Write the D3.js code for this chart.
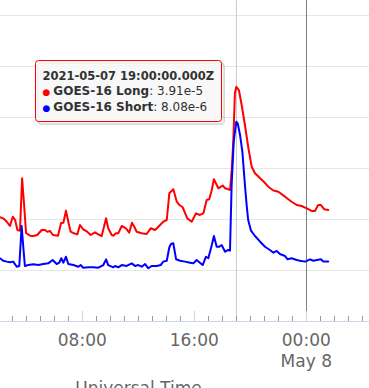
<!DOCTYPE html>
<html>
<head>
<meta charset="utf-8">
<script src="https://cdn.jsdelivr.net/npm/d3@7/dist/d3.min.js"></script>
<style>
html,body{margin:0;padding:0;background:#fff;overflow:hidden;}
svg{display:block;}
</style>
</head>
<body>
<svg id="chart" width="369" height="388"></svg>
<script>
// ---- data (UTC, 2021-05-DD HH:MM) ----
const longTimes = ["07 02:07","07 02:21","07 02:36","07 02:50","07 03:02","07 03:12","07 03:22","07 03:33","07 03:42","07 03:50","07 03:59","07 04:16","07 04:30","07 04:47","07 05:06","07 05:20","07 05:30","07 05:42","07 05:54","07 06:16","07 06:29","07 06:39","07 06:50","07 07:00","07 07:10","07 07:24","07 07:39","07 07:50","07 08:04","07 08:21","07 08:36","07 08:54","07 09:09","07 09:23","07 09:42","07 09:51","07 10:06","07 10:13","07 10:24","07 10:34","07 10:49","07 11:07","07 11:21","07 11:33","07 11:43","07 11:53","07 12:15","07 12:36","07 12:53","07 13:12","07 13:26","07 13:47","07 14:02","07 14:13","07 14:30","07 14:45","07 14:56","07 15:10","07 15:30","07 15:49","07 16:07","07 16:24","07 16:39","07 16:53","07 17:04","07 17:15","07 17:24","07 17:43","07 18:02","07 18:12","07 18:26","07 18:33","07 18:40","07 18:47","07 18:54","07 19:00","07 19:11","07 19:23","07 19:37","07 19:52","07 20:06","07 20:20","07 20:42","07 20:59","07 21:17","07 21:39","07 22:00","07 22:29","07 22:57","07 23:19","07 23:40","08 00:02","08 00:23","08 00:37","08 00:51","08 01:03","08 01:17","08 01:34"];
const longValues = [1.08e-7,1.03e-7,8.85e-8,7.29e-8,1.11e-7,9.56e-8,6.08e-8,5.90e-8,6.28e-7,2.06e-7,5.31e-8,4.71e-8,4.64e-8,4.86e-8,6.08e-8,6.08e-8,5.63e-8,5.82e-8,4.86e-8,4.71e-8,8.35e-8,8.46e-8,1.46e-7,8.85e-8,5.63e-8,5.24e-8,5.0e-8,7.63e-8,6.28e-8,5.63e-8,4.86e-8,5.48e-8,5.0e-8,4.64e-8,1.03e-7,6.57e-8,4.86e-8,4.71e-8,5.24e-8,5.24e-8,7.29e-8,6.57e-8,5.41e-8,8.46e-8,7.06e-8,5.63e-8,5.24e-8,5.08e-8,6.57e-8,6.08e-8,7.06e-8,8.85e-8,9.56e-8,3.19e-7,3.82e-7,2.18e-7,1.88e-7,1.70e-7,1.03e-7,8.85e-8,1.29e-7,1.20e-7,1.29e-7,2.36e-7,2.43e-7,3.70e-7,6.00e-7,4.00e-7,4.54e-7,4.00e-7,3.82e-7,3.70e-7,8.46e-7,3.28e-6,2.92e-5,3.91e-5,3.38e-5,1.72e-5,6.97e-6,2.43e-6,1.06e-6,7.87e-7,6.28e-7,5.31e-7,4.30e-7,3.62e-7,3.43e-7,2.74e-7,2.18e-7,1.88e-7,1.80e-7,1.62e-7,1.44e-7,1.44e-7,1.88e-7,1.88e-7,1.55e-7,1.50e-7];
const shortTimes = ["07 02:07","07 02:21","07 02:36","07 02:50","07 03:04","07 03:19","07 03:30","07 03:40","07 03:47","07 03:54","07 04:09","07 04:30","07 04:51","07 05:13","07 05:34","07 05:53","07 06:10","07 06:21","07 06:30","07 06:39","07 06:50","07 07:00","07 07:22","07 07:43","07 07:53","07 08:04","07 08:26","07 08:47","07 09:09","07 09:30","07 09:42","07 09:51","07 10:13","07 10:20","07 10:34","07 10:49","07 11:10","07 11:32","07 11:46","07 12:00","07 12:15","07 12:29","07 12:43","07 12:57","07 13:19","07 13:36","07 13:47","07 14:02","07 14:13","07 14:20","07 14:30","07 14:42","07 14:59","07 15:20","07 15:42","07 15:56","07 16:10","07 16:24","07 16:36","07 16:50","07 17:00","07 17:15","07 17:24","07 17:36","07 17:47","07 17:57","07 18:12","07 18:26","07 18:33","07 18:40","07 18:49","07 19:00","07 19:06","07 19:16","07 19:26","07 19:37","07 19:45","07 19:51","07 20:03","07 20:20","07 20:42","07 21:03","07 21:24","07 21:39","07 21:53","07 22:07","07 22:29","07 22:40","07 22:57","07 23:19","07 23:33","07 23:55","08 00:16","08 00:30","08 00:45","08 01:03","08 01:13","08 01:34"];
const shortValues = [1.70e-8,1.52e-8,1.46e-8,1.42e-8,1.46e-8,1.16e-8,1.20e-8,7.29e-8,2.86e-8,1.20e-8,1.25e-8,1.29e-8,1.25e-8,1.31e-8,1.35e-8,1.57e-8,1.31e-8,1.39e-8,1.70e-8,1.39e-8,1.82e-8,1.31e-8,1.25e-8,1.16e-8,1.25e-8,1.11e-8,1.13e-8,1.13e-8,1.11e-8,1.25e-8,1.62e-8,1.25e-8,1.13e-8,1.20e-8,1.13e-8,1.25e-8,1.20e-8,1.35e-8,1.20e-8,1.25e-8,1.16e-8,1.31e-8,1.08e-8,1.20e-8,1.20e-8,1.25e-8,1.46e-8,1.52e-8,2.79e-8,3.24e-8,3.34e-8,1.62e-8,1.52e-8,1.46e-8,1.39e-8,1.35e-8,1.57e-8,1.39e-8,1.25e-8,1.82e-8,1.70e-8,3.09e-8,4.64e-8,2.86e-8,2.86e-8,3.09e-8,2.28e-8,2.47e-8,2.39e-8,4.64e-7,3.28e-6,8.08e-6,7.52e-6,4.44e-6,2.09e-6,4.64e-7,1.74e-7,9.56e-8,5.90e-8,4.64e-8,3.59e-8,2.86e-8,2.47e-8,2.18e-8,2.36e-8,2.06e-8,1.88e-8,1.62e-8,1.70e-8,1.57e-8,1.52e-8,1.46e-8,1.62e-8,1.52e-8,1.57e-8,1.62e-8,1.46e-8,1.46e-8];
const seriesNames = ["GOES-16 Long","GOES-16 Short"];
const seriesColors = ["#ff0000","#0000ff"];
const gridValues = [1e-8,1e-7,1e-6,1e-5,1e-4,1e-3];
const tooltipTime = "07 19:00";
const tooltipHeader = "2021-05-07 19:00:00.000Z";
const tooltipValues = ["3.91e-5","8.08e-6"];
const dayBoundary = "08 00:00";
const axisTitle = "Universal Time";

// ---- setup ----
const parse = d3.utcParse("%Y-%m-%d %H:%M");
const T = s => parse("2021-05-" + s);
const W = 369, H = 388;
const FONT = "'DejaVu Sans', Verdana, sans-serif";
const svg = d3.select("#chart");

const base = d3.scaleUtc().domain([T("07 08:00"), T("07 16:00")]).range([82.3, 194.3]);
const x = d3.scaleUtc().domain([base.invert(0), base.invert(W)]).range([0, W]);
const axisY = 321;
const y = d3.scaleLog().domain([1e-9, 1e-3]).range([axisY, 15]);

// gridlines
svg.append("g").selectAll("line").data(gridValues).join("line")
  .attr("x1", 0).attr("x2", W)
  .attr("y1", d => Math.round(y(d)) + 0.5).attr("y2", d => Math.round(y(d)) + 0.5)
  .attr("stroke", "#e6e6e6").attr("stroke-width", 1);

// crosshair
const cx = Math.round(x(T(tooltipTime))) + 0.5;
svg.append("line").attr("x1", cx).attr("x2", cx).attr("y1", 0).attr("y2", axisY)
  .attr("stroke", "#cccccc").attr("stroke-width", 1);

// day boundary line
const dx = Math.round(x(T(dayBoundary))) + 0.5;
svg.append("line").attr("x1", dx).attr("x2", dx).attr("y1", 0).attr("y2", axisY - 10)
  .attr("stroke", "#808080").attr("stroke-width", 1);

// axis
const majorTicks = d3.utcHour.every(8).range(x.domain()[0], x.domain()[1]);
const minorTicks = d3.utcHour.every(1).range(x.domain()[0], x.domain()[1]);
const gAxis = svg.append("g");
gAxis.selectAll("line.minor").data(minorTicks.filter(t => t.getUTCHours() % 8 !== 0)).join("line")
  .attr("class", "minor")
  .attr("x1", d => Math.round(x(d)) + 0.5).attr("x2", d => Math.round(x(d)) + 0.5)
  .attr("y1", axisY - 5).attr("y2", axisY)
  .attr("stroke", "#999999").attr("stroke-width", 1);
gAxis.selectAll("line.major").data(majorTicks).join("line")
  .attr("class", "major")
  .attr("x1", d => Math.round(x(d)) + 0.5).attr("x2", d => Math.round(x(d)) + 0.5)
  .attr("y1", axisY - 10).attr("y2", axisY)
  .attr("stroke", "#ccd6eb").attr("stroke-width", 1);
gAxis.append("line").attr("x1", 0).attr("x2", W).attr("y1", axisY + 0.5).attr("y2", axisY + 0.5)
  .attr("stroke", "#ccd6eb").attr("stroke-width", 1);

const fmtH = d3.utcFormat("%H:%M");
const fmtD = d3.utcFormat("%b %-d");
const lbl = gAxis.selectAll("text.tick").data(majorTicks).join("text")
  .attr("class", "tick")
  .attr("x", d => x(d)).attr("y", 345.5)
  .attr("text-anchor", "middle")
  .attr("font-family", FONT).attr("font-size", 17).attr("fill", "#666666");
lbl.append("tspan").text(d => fmtH(d));
lbl.filter(d => d.getUTCHours() === 0).append("tspan")
  .attr("x", d => x(d)).attr("dy", 21).text(d => fmtD(d));

svg.append("text").attr("x", 138.5).attr("y", 393.5).attr("text-anchor", "middle")
  .attr("font-family", FONT).attr("font-size", 17).attr("fill", "#666666").text(axisTitle);

// series
const line = d3.line().x(d => x(d[0])).y(d => y(d[1]));
const series = [
  longTimes.map((t, i) => [T(t), longValues[i]]),
  shortTimes.map((t, i) => [T(t), shortValues[i]])
];
svg.append("g").selectAll("path").data(series).join("path")
  .attr("d", line)
  .attr("fill", "none")
  .attr("stroke", (d, i) => seriesColors[i])
  .attr("stroke-width", 2)
  .attr("stroke-linejoin", "round").attr("stroke-linecap", "round");

// tooltip
const tt = svg.append("g").attr("transform", "translate(35.5,60.5)");
const tw = 186, th = 61;
[3, 2, 1].forEach(o => {
  tt.append("rect").attr("x", o).attr("y", o).attr("width", tw).attr("height", th).attr("rx", 3)
    .attr("fill", "none").attr("stroke", "#000").attr("stroke-opacity", 0.05 * o).attr("stroke-width", 1);
});
tt.append("rect").attr("width", tw).attr("height", th).attr("rx", 3)
  .attr("fill", "rgba(247,247,247,0.85)").attr("stroke", seriesColors[0]).attr("stroke-width", 1);
tt.append("text").attr("x", 7).attr("y", 19.5)
  .attr("font-family", FONT).attr("font-size", 11.5).attr("font-weight", "bold").attr("fill", "#333333")
  .text(tooltipHeader);
seriesNames.forEach((name, i) => {
  const t = tt.append("text").attr("x", 7).attr("y", 34.5 + i * 15.5)
    .attr("font-family", FONT).attr("font-size", 12).attr("fill", "#333333");
  t.append("tspan").attr("fill", seriesColors[i]).attr("font-size", 9).text("\u25CF");
  t.append("tspan").attr("dx", 3).attr("font-weight", "bold").text(name);
  t.append("tspan").text(": " + tooltipValues[i]);
});
</script>
</body>
</html>
